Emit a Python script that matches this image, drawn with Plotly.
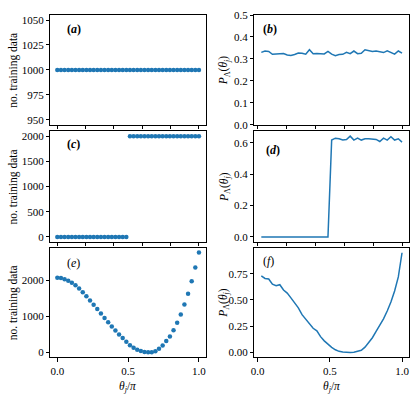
import numpy as np
import plotly.graph_objects as go

# x positions (theta_j / pi)
theta_left = np.linspace(0, 1, 40)
theta_right = np.linspace(0, 1, 40)[1:]

n_uniform = [1000] * 40
n_step = [0] * 20 + [2000] * 20
n_shaped = [2065, 2060, 2027, 1982, 1928, 1857, 1767, 1668, 1552, 1435,
            1318, 1202, 1076, 951, 834, 717, 601, 493, 395, 292,
            195, 126, 72, 36, 9, 0, 0, 27, 99, 188,
            314, 439, 610, 816, 1049, 1327, 1623, 1973, 2350, 2771]

p_uniform = [0.330, 0.336, 0.334, 0.321, 0.323, 0.324, 0.325, 0.318, 0.316, 0.320,
             0.327, 0.326, 0.322, 0.342, 0.324, 0.325, 0.324, 0.323, 0.334, 0.322,
             0.315, 0.320, 0.321, 0.330, 0.324, 0.336, 0.324, 0.326, 0.342, 0.337,
             0.334, 0.336, 0.333, 0.329, 0.337, 0.330, 0.322, 0.336, 0.326]
p_step = [0.0] * 19 + [0.617, 0.629, 0.625, 0.617, 0.621, 0.642, 0.617, 0.629, 0.617, 0.625,
                       0.625, 0.623, 0.621, 0.608, 0.629, 0.617, 0.638, 0.617, 0.625, 0.604]
p_shaped = [0.73, 0.705, 0.70, 0.65, 0.635, 0.645, 0.595, 0.565, 0.52, 0.475,
            0.425, 0.36, 0.32, 0.28, 0.23, 0.205, 0.15, 0.11, 0.075, 0.048,
            0.025, 0.01, 0.003, 0.0, 0.0, 0.002, 0.008, 0.02, 0.05, 0.09,
            0.14, 0.2, 0.26, 0.32, 0.395, 0.48, 0.585, 0.72, 0.95]

blue = '#1f77b4'
font = "Liberation Serif"
W, H = 415, 399

xdom = [[46.7 / W, 204 / W], [252.7 / W, 409 / W]]
rows_px = [(9.3, 122.5), (129, 243.3), (249, 362.3)]
ydom = [[1 - b / H, 1 - t / H] for t, b in rows_px]

fig = go.Figure()

panels = [
    # (col, row, x, y, kind, yrange, ytickvals, yticktext, label)
    (0, 0, theta_left, n_uniform, 'markers', [945, 1055], [950, 975, 1000, 1025, 1050], None, 'a'),
    (1, 0, theta_right, p_uniform, 'lines', [0, 0.5], [0, 0.1, 0.2, 0.3, 0.4, 0.5],
     ['0.0', '0.1', '0.2', '0.3', '0.4', '0.5'], 'b'),
    (0, 1, theta_left, n_step, 'markers', [-100, 2100], [0, 500, 1000, 1500, 2000], None, 'c'),
    (1, 1, theta_right, p_step, 'lines', [-0.0321, 0.674], [0, 0.2, 0.4, 0.6],
     ['0.0', '0.2', '0.4', '0.6'], 'd'),
    (0, 2, theta_left, n_shaped, 'markers', [-143, 2907], [0, 1000, 2000], None, 'e'),
    (1, 2, theta_right, p_shaped, 'lines', [-0.0478, 1.0], [0, 0.25, 0.5, 0.75],
     ['0.00', '0.25', '0.50', '0.75'], 'f'),
]

label_pos = {'a': (61.7, 23.3), 'b': (259, 24), 'c': (61.7, 142.3),
             'd': (262.3, 148.3), 'e': (61.7, 265), 'f': (259.3, 263.3)}

annotations = []
for i, (col, row, xs, ys, kind, yr, tv, tt, lab) in enumerate(panels, start=1):
    xa = 'x' if i == 1 else f'x{i}'
    ya = 'y' if i == 1 else f'y{i}'
    if kind == 'markers':
        fig.add_trace(go.Scatter(x=xs, y=ys, mode='markers', xaxis=xa, yaxis=ya,
                                 marker=dict(color=blue, size=4.5), showlegend=False))
    else:
        fig.add_trace(go.Scatter(x=xs, y=ys, mode='lines', xaxis=xa, yaxis=ya,
                                 line=dict(color=blue, width=1.5), showlegend=False))

    bottom = row == 2
    xr = [-0.05, 1.05] if col == 0 else [-0.0231, 1.0487]
    xaxis = dict(domain=xdom[col], range=xr, anchor=ya,
                 tickmode='array',
                 tickvals=[0, 0.5, 1.0] if bottom else [0, 0.2, 0.4, 0.6, 0.8, 1.0],
                 ticktext=['0.0', '0.5', '1.0'] if bottom else [''] * 6,
                 ticks='outside', ticklen=3.5, tickwidth=0.8, tickcolor='black',
                 showline=True, mirror=True, linecolor='black', linewidth=0.8,
                 showgrid=False, zeroline=False,
                 tickfont=dict(family=font, size=11, color='black'))
    yaxis = dict(domain=ydom[row], range=yr, anchor=xa,
                 tickmode='array', tickvals=tv,
                 ticks='outside', ticklen=3.5, tickwidth=0.8, tickcolor='black',
                 showline=True, mirror=True, linecolor='black', linewidth=0.8,
                 showgrid=False, zeroline=False,
                 tickfont=dict(family=font, size=11, color='black'))
    if tt is not None:
        yaxis['ticktext'] = tt
    fig.update_layout({('xaxis' if i == 1 else f'xaxis{i}'): xaxis,
                       ('yaxis' if i == 1 else f'yaxis{i}'): yaxis})

    lx, ly = label_pos[lab]
    txt = f'<b>(<i>{lab}</i>)</b>' if lab in 'abcd' else f'(<i>{lab}</i>)'
    annotations.append(dict(x=lx / W, y=1 - ly / H, xref='paper', yref='paper',
                            text=txt, showarrow=False, xanchor='left', yanchor='middle',
                            font=dict(family=font, size=12, color='black')))

    # y-axis titles
    ycen = 1 - (rows_px[row][0] + rows_px[row][1]) / 2 / H
    ytitle = 'no. training data' if col == 0 else '<i>P</i><sub>Λ</sub>(<i>θ<sub>j</sub></i>)'
    annotations.append(dict(x=(10 if col == 0 else 222.5) / W, y=ycen, xref='paper', yref='paper',
                            text=ytitle, showarrow=False, textangle=-90,
                            xanchor='center', yanchor='middle',
                            font=dict(family=font, size=11.5, color='black')))

for col in range(2):
    annotations.append(dict(x=(xdom[col][0] + xdom[col][1]) / 2, y=1 - 384 / H,
                            xref='paper', yref='paper',
                            text='<i>θ<sub>j</sub></i>/<i>π</i>', showarrow=False,
                            xanchor='center', yanchor='top',
                            font=dict(family=font, size=11.5, color='black')))

fig.update_layout(width=W, height=H, margin=dict(l=0, r=0, t=0, b=0),
                  plot_bgcolor='white', paper_bgcolor='white',
                  annotations=annotations, showlegend=False)

# drop the default page margin so the figure sits at the window's corner
fig.write_html("out.html", config={'displayModeBar': False},
               post_script="document.body.style.margin='0';")
